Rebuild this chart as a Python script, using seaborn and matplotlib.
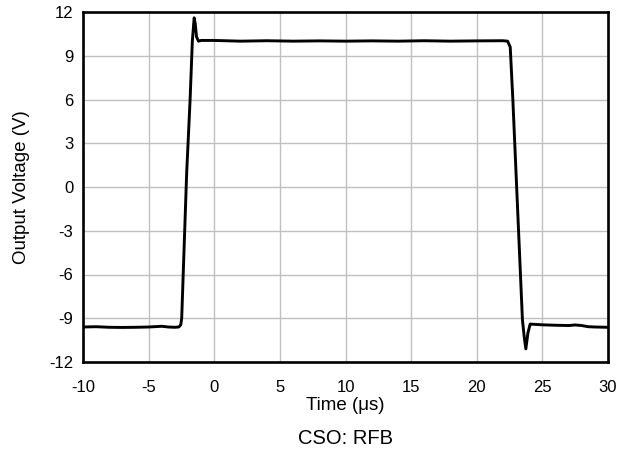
import pandas as pd
import matplotlib
matplotlib.use("Agg")
import matplotlib.pyplot as plt
import seaborn as sns

# waveform points (time in us, volts)
time_us = [-10.0, -9.0, -8.0, -7.0, -6.0, -5.0, -4.0, -3.5, -3.0, -2.7,
           -2.55, -2.48, -2.1, -1.84, -1.67, -1.53, -1.45, -1.35, -1.2,
           -1.0, 0.0, 2.0, 4.0, 6.0, 8.0, 10.0, 12.0, 14.0, 16.0, 18.0, 20.0,
           22.0, 22.35, 22.55, 22.75, 23.48, 23.62, 23.74, 23.9,
           24.07, 25.0, 26.0, 27.0, 27.5, 28.0, 28.5, 29.0, 30.0]
volts = [-9.6, -9.58, -9.62, -9.63, -9.62, -9.6, -9.55, -9.6, -9.62, -9.6,
         -9.45, -9.0, 1.0, 6.0, 10.0, 11.6, 11.2, 10.3, 10.0,
         10.05, 10.05, 10.0, 10.03, 10.0, 10.02, 10.0, 10.02, 10.0, 10.03, 10.0, 10.02,
         10.03, 10.0, 9.6, 6.0, -9.1, -10.3, -11.1, -10.0,
         -9.4, -9.45, -9.48, -9.5, -9.46, -9.5, -9.58, -9.6, -9.62]

x_ticks = [-10, -5, 0, 5, 10, 15, 20, 25, 30]
y_ticks = [-12, -9, -6, -3, 0, 3, 6, 9, 12]

df = pd.DataFrame({"Time": time_us, "Voltage": volts})

sns.set_style("white")
plt.rcParams['font.family'] = ['Liberation Sans', 'DejaVu Sans']
plt.rcParams['axes.unicode_minus'] = False
plt.rcParams['text.color'] = "black"
plt.rcParams['axes.labelcolor'] = "black"

fig = plt.figure(figsize=(6.29, 4.53), dpi=100)
ax = fig.add_axes([83/629, 1 - 362/453, 525/629, 350/453])

sns.lineplot(x="Time", y="Voltage", data=df, ax=ax, color="black",
             linewidth=2.1, sort=False, zorder=3)

ax.set_xlim(-10, 30)
ax.set_ylim(-12, 12)
ax.set_xticks(x_ticks)
ax.set_yticks(y_ticks)
ax.grid(True, color="#c0c0c0", linewidth=1.0, zorder=0)
ax.tick_params(length=0, labelsize=12, colors="black")
ax.tick_params(axis="y", pad=7)
ax.tick_params(axis="x", pad=13)
for s in ax.spines.values():
    s.set_color("black")
    s.set_linewidth(1.9)
    s.set_zorder(4)

ax.set_xlabel("Time (\u03bcs)", fontsize=13.5, va="center", color="black")
ax.set_ylabel("Output Voltage (V)", fontsize=13.5, va="center", color="black")
ax.xaxis.set_label_coords(0.5, -(406 - 362) / 350)
ax.yaxis.set_label_coords(-(83 - 22) / 525, 0.5)
fig.text((83 + 608) / 2 / 629, 1 - 438 / 453, "CSO: RFB", ha="center",
         va="center", fontsize=14.5, color="black")

fig.savefig("out.png", dpi=100)
